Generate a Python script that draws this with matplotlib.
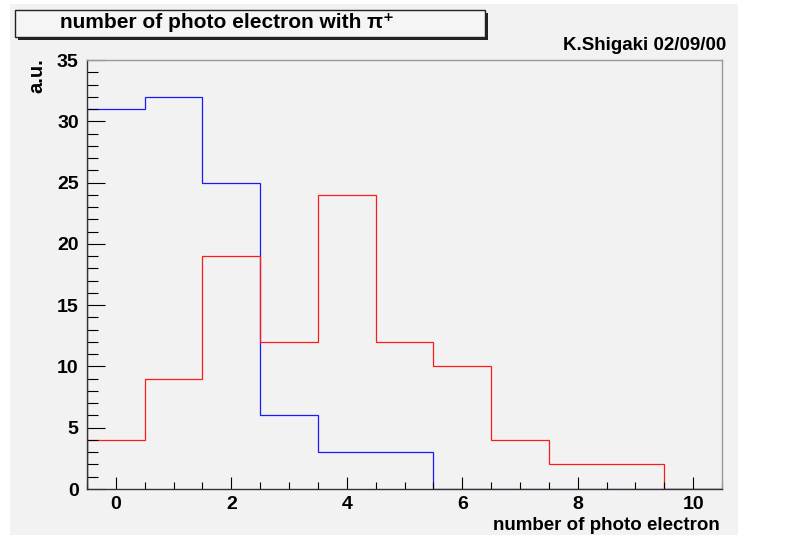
import numpy as np
import matplotlib.pyplot as plt
from matplotlib.patches import Rectangle
from matplotlib.ticker import MultipleLocator

# histogram contents, one bin per photo electron count 0..10
n_pe = [0, 1, 2, 3, 4, 5, 6, 7, 8, 9, 10]
pi_50 = [31, 32, 25, 6, 3, 3, 0, 0, 0, 0, 0]
pi_55 = [4, 9, 19, 12, 24, 12, 10, 4, 2, 2, 0]
labels = ['π⁺ at 5.0 GeV', 'π⁺ at 5.5 GeV']

W, H = 785, 539
bg = '#f2f2f2'
fam = ['Liberation Sans', 'DejaVu Sans']
plt.rcParams['font.family'] = fam
plt.rcParams['font.weight'] = 'bold'

fig = plt.figure(figsize=(W / 100, H / 100), dpi=100, facecolor='white')

def px(x0, y0, x1, y1):
    # pixel box (top-left origin) -> figure fraction rect
    return (x0 / W, 1 - y1 / H), (x1 - x0) / W, (y1 - y0) / H

# canvas
xy, w, h = px(10, 4, 738, 535)
fig.patches.append(Rectangle(xy, w, h, transform=fig.transFigure, facecolor=bg, edgecolor='none', zorder=-5))

# title pave with shadow
xy, w, h = px(18, 13, 488, 40)
fig.patches.append(Rectangle(xy, w, h, transform=fig.transFigure, facecolor='#222222', edgecolor='none', zorder=1))
xy, w, h = px(15, 10, 485, 37)
fig.patches.append(Rectangle(xy, w, h, transform=fig.transFigure, facecolor='#f5f5f5', edgecolor='#222222', lw=1.0, zorder=2))
fig.text(60 / W, 1 - 23 / H, 'number of photo electron with π⁺', fontsize=15, fontweight='bold',
         va='center', ha='left', zorder=3)

fig.text(726 / W, 1 - 45 / H, 'K.Shigaki 02/09/00', fontsize=13.5, fontweight='bold', ha='right', va='center')

ax = fig.add_axes([87 / W, 1 - 489 / H, 635 / W, 429 / H])
ax.set_zorder(5)
ax.set_facecolor(bg)

edges = np.append(np.array(n_pe) - 0.5, n_pe[-1] + 0.5)
ax.stairs(pi_50, edges, color='#1a1aff', lw=0.9, baseline=0)
ax.stairs(pi_55, edges, color='#ff1a1a', lw=0.9, baseline=0)

ax.set_xlim(-0.5, 10.5)
ax.set_ylim(0, 35)

ax.xaxis.set_major_locator(MultipleLocator(2))
ax.xaxis.set_minor_locator(MultipleLocator(0.5))
ax.yaxis.set_major_locator(MultipleLocator(5))
ax.yaxis.set_minor_locator(MultipleLocator(1))
ax.tick_params(axis='x', which='major', direction='in', length=9, width=0.8, labelsize=14, pad=5)
ax.tick_params(axis='x', which='minor', direction='in', length=5, width=0.8)
ax.tick_params(axis='y', which='major', direction='in', length=13, width=0.8, labelsize=14, pad=6)
ax.tick_params(axis='y', which='minor', direction='in', length=8, width=0.8)
for lab in ax.get_xticklabels() + ax.get_yticklabels():
    lab.set_fontweight('bold')

for s in ['top', 'right']:
    ax.spines[s].set_color('#999999')
    ax.spines[s].set_linewidth(1.0)
for s in ['left', 'bottom']:
    ax.spines[s].set_color('#333333')
    ax.spines[s].set_linewidth(1.0)

fig.text(720 / W, 1 - 525 / H, 'number of photo electron', fontsize=13.5, fontweight='bold', ha='right', va='center')
fig.text(37 / W, 1 - 58 / H, 'a.u.', fontsize=14.5, fontweight='bold', rotation=90, ha='center', va='top')

fig.text(447 / W, 1 - 135 / H, labels[0], fontsize=20, fontweight='bold', color='#0000ff', ha='left', va='center')
fig.text(447 / W, 1 - 178 / H, labels[1], fontsize=20, fontweight='bold', color='#ff0000', ha='left', va='center')

fig.savefig('out.png', dpi=100, facecolor='white')
